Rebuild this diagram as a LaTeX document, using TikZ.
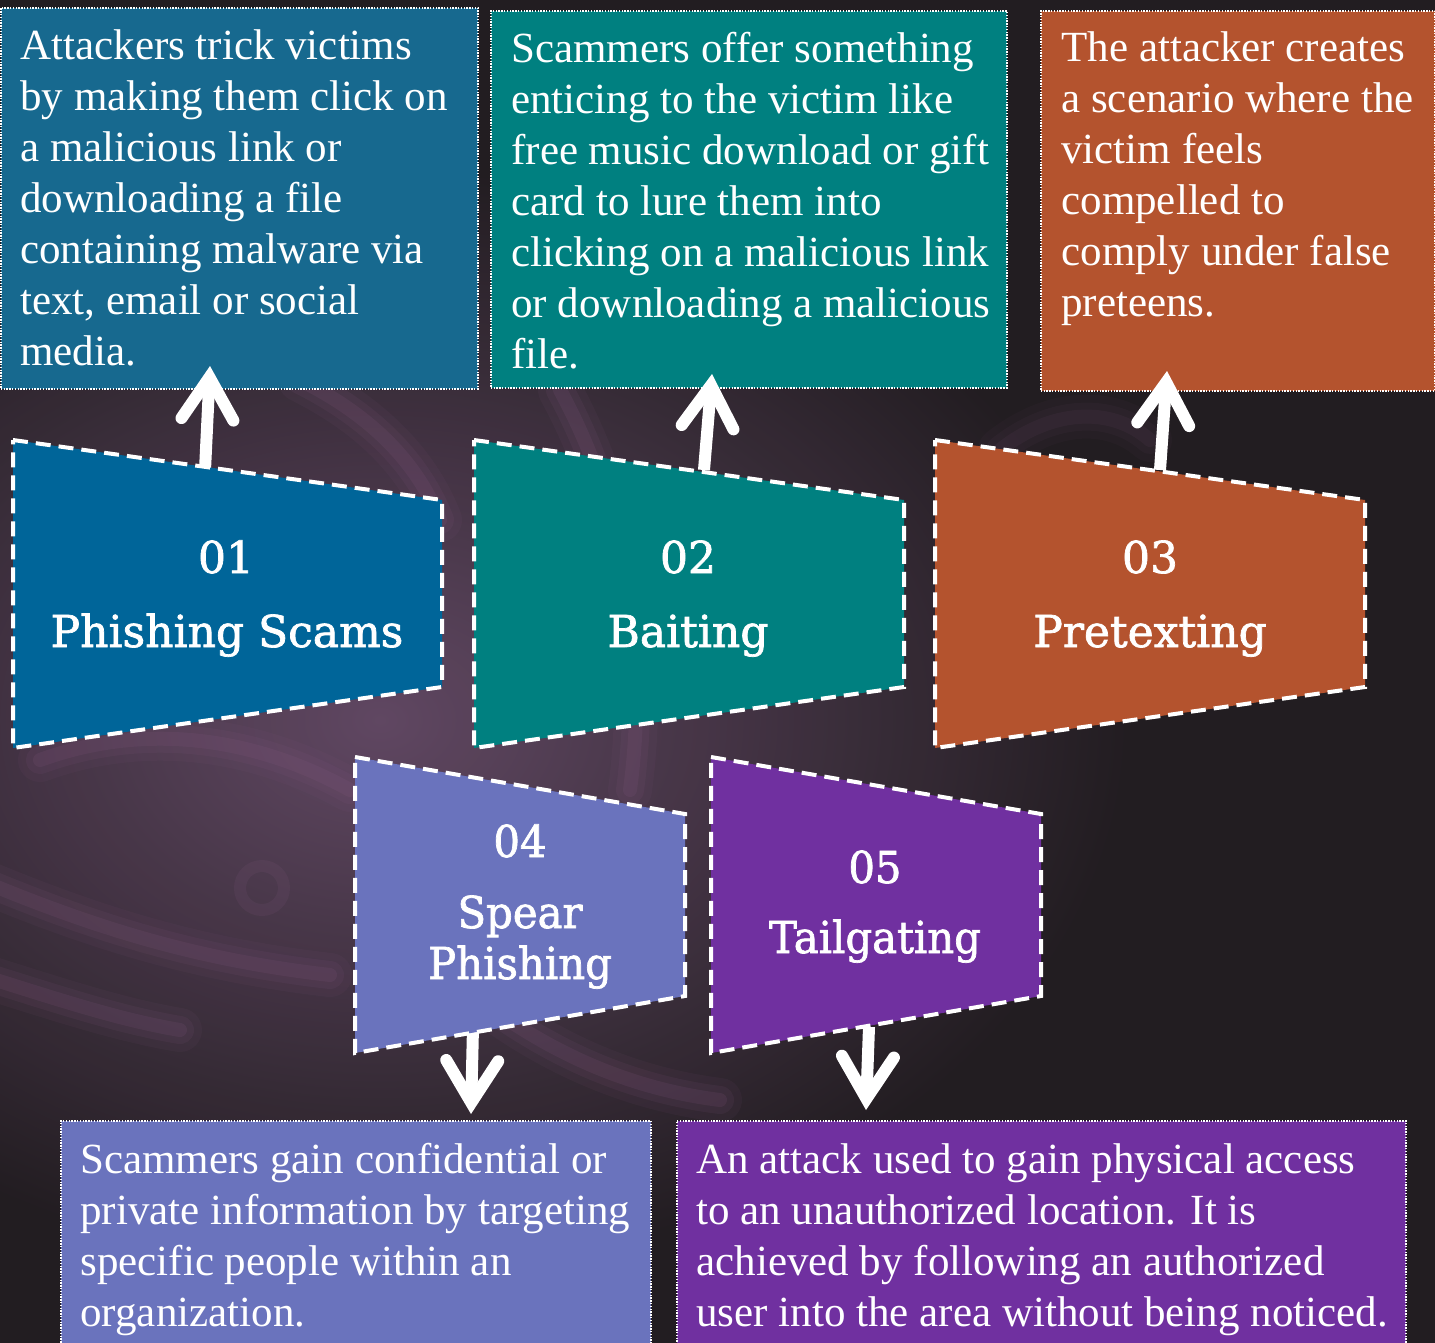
\documentclass[tikz,border=0pt]{standalone}
\usepackage{fontspec}
\setmainfont{Liberation Serif}
\newfontfamily\lblfont[FakeBold=1.6]{DejaVu Serif}
\newfontfamily\lblcond[FakeStretch=0.95,FakeBold=1.6]{DejaVu Serif}
\usetikzlibrary{arrows.meta}
\definecolor{bgdark}{HTML}{221D21}
\definecolor{glowc}{HTML}{644A66}
\definecolor{streak}{HTML}{8A5C86}
\definecolor{dA}{HTML}{17698F}
\definecolor{sA}{HTML}{006599}
\definecolor{cB}{HTML}{008080}
\definecolor{cC}{HTML}{B4532E}
\definecolor{cD}{HTML}{6A73BD}
\definecolor{cE}{HTML}{7030A0}
\tikzset{
  descbox/.style={draw=white, line width=0.8pt, dash pattern=on 0.7pt off 0.7pt, inner sep=0pt, anchor=north west},
  desctext/.style={text=white, font=\fontsize{21.5}{25.5}\selectfont, align=left, inner sep=0pt, anchor=north west},
  quad/.style={draw=white, line width=2pt, dash pattern=on 7.5pt off 4pt},
  lbl/.style={text=white, font=\lblfont\fontsize{22}{26}\selectfont, anchor=base, inner sep=0pt},
  lblc/.style={text=white, font=\lblcond\fontsize{22}{26}\selectfont, anchor=base, inner sep=0pt},
  arr/.style={white, line width=6pt, -{Straight Barb[length=21pt,width=26pt,line cap=round,line join=miter]}},
  glowline/.style={streak, line cap=round},
}
\begin{document}
\begin{tikzpicture}[x=0.5pt,y=-0.5pt]
\useasboundingbox (0,0) rectangle (1435,1343);
\fill[bgdark] (0,0) rectangle (1435,1343);
% background glow
\begin{scope}
\clip (0,0) rectangle (1435,1343);
\shade[inner color=glowc, outer color=bgdark, opacity=0.95] (380,720) ellipse [x radius=760, y radius=560];
\foreach \w/\o in {44/0.07,28/0.1,14/0.14}{
  \draw[glowline, line width=\w*0.5pt, opacity=\o] (-20,880) .. controls (100,930) and (200,960) .. (330,975);
  \draw[glowline, line width=\w*0.5pt, opacity=\o] (-20,975) .. controls (60,1000) and (120,1020) .. (180,1030);
  \draw[glowline, line width=\w*0.5pt, opacity=\o] (560,390) .. controls (620,500) and (650,640) .. (630,790);
  \draw[glowline, line width=\w*0.5pt, opacity=\o] (300,380) .. controls (380,420) and (420,470) .. (440,520);
  \draw[glowline, line width=\w*0.5pt, opacity=\o] (40,760) .. controls (150,720) and (260,740) .. (350,790);
  \draw[glowline, line width=\w*0.5pt, opacity=\o] (480,1000) .. controls (560,1060) and (640,1090) .. (720,1100);
  \draw[glowline, line width=\w*0.5pt, opacity=\o*0.6] (1000,450) .. controls (1050,410) and (1110,405) .. (1150,440);
}
\draw[streak, line width=6pt, opacity=0.12] (262,888) circle [radius=22];
\end{scope}

% description boxes
\node[descbox, fill=dA, minimum width=238.5pt, minimum height=190.5pt] (d1) at (0,7) {};
\node[descbox, fill=cB, minimum width=258pt, minimum height=188.5pt] (d2) at (490,10) {};
\node[descbox, fill=cC, minimum width=197pt, minimum height=190pt] (d3) at (1040,10) {};
\node[descbox, fill=cD, minimum width=295pt, minimum height=130pt] (d4) at (60,1120) {};
\node[descbox, fill=cE, minimum width=364.5pt, minimum height=130pt] (d5) at (676,1120) {};

\node[desctext] (t1) at (20,29) {Attackers trick victims\\by making them click on\\a malicious link or\\downloading a file\\containing malware via\\text, email or social\\media.};
\node[desctext] (t2) at (511,32) {Scammers offer something\\enticing to the victim like\\free music download or gift\\card to lure them into\\clicking on a malicious link\\or downloading a malicious\\file.};
\node[desctext] (t3) at (1061,31) {The attacker creates\\a scenario where the\\victim feels\\compelled to\\comply under false\\preteens.};
\node[desctext] (t4) at (80,1143) {Scammers gain confidential or\\private information by targeting\\specific people within an\\organization.};
\node[desctext] (t5) at (696,1143) {An attack used to gain physical access\\to an unauthorized location. It is\\achieved by following an authorized\\user into the area without being noticed.};

% arrow end points
\coordinate (a1s) at (205,470); \coordinate (a1e) at (210,366);
\coordinate (a2s) at (704,470); \coordinate (a2e) at (712,374);
\coordinate (a3s) at (1160,470); \coordinate (a3e) at (1167,371);
\coordinate (a4s) at (473,1027); \coordinate (a4e) at (471,1114);
\coordinate (a5s) at (869,1027); \coordinate (a5e) at (866,1110);
\draw[arr] (a1s) -- (a1e);
\draw[arr] (a2s) -- (a2e);
\draw[arr] (a3s) -- (a3e);
\draw[arr] (a4s) -- (a4e);
\draw[arr] (a5s) -- (a5e);

% trapezoid shapes
\path[quad, fill=sA] (13,440) -- (442,500) -- (442,687) -- (13,748) -- cycle;
\path[quad, fill=cB] (474,440) -- (904,500) -- (904,687) -- (474,748) -- cycle;
\path[quad, fill=cC] (935,440) -- (1365,500) -- (1365,687) -- (935,748) -- cycle;
\path[quad, fill=cD] (355,757) -- (685,814) -- (685,996) -- (355,1053) -- cycle;
\path[quad, fill=cE] (711,757) -- (1041,814) -- (1041,996) -- (711,1053) -- cycle;

% labels
\node[lbl] (n1) at (226,573) {01};
\node[lbl] (l1) at (227,647) {Phishing Scams};
\node[lbl] (n2) at (688,573) {02};
\node[lbl] (l2) at (688,647) {Baiting};
\node[lbl] (n3) at (1150,573) {03};
\node[lbl] (l3) at (1150,647) {Pretexting};
\node[lblc] (n4) at (520,857) {04};
\node[lblc] (l4a) at (520,928) {Spear};
\node[lblc] (l4b) at (520,979) {Phishing};
\node[lblc] (n5) at (875,883) {05};
\node[lblc] (l5) at (875,953) {Tailgating};
\end{tikzpicture}
\end{document}
